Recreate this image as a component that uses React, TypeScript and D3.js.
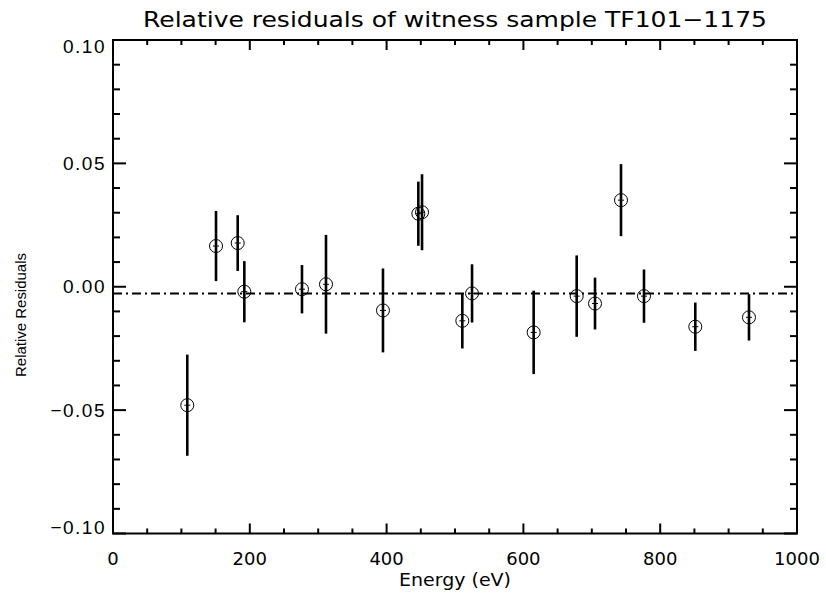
import React from "react";
import * as d3 from "d3";

const energy = [108.6, 150.6, 182.3, 192, 276.3, 311.4, 394.7, 446.4, 451.8, 510.7, 524.9, 615, 677.9, 704.7, 742.7, 776.3, 851.3, 929.8];
const residual = [-0.048, 0.0165, 0.0177, -0.002, -0.001, 0.001, -0.0096, 0.0296, 0.0302, -0.0138, -0.0027, -0.0185, -0.0038, -0.0068, 0.0351, -0.0038, -0.0162, -0.0124];
const errors = [0.0205, 0.0142, 0.0113, 0.0124, 0.0098, 0.02, 0.017, 0.013, 0.0154, 0.0112, 0.0118, 0.0169, 0.0165, 0.0105, 0.0146, 0.0108, 0.0098, 0.0094];
const refLevel = -0.0027;
const xMajorTicks = [0, 200, 400, 600, 800, 1000];
const yMajorTicks = [-0.1, -0.05, 0, 0.05, 0.1];
const yTickLabels = ["\u22120.10", "\u22120.05", "0.00", "0.05", "0.10"];
const title = "Relative residuals of witness sample TF101\u22121175";
const xLabel = "Energy (eV)";
const yLabel = "Relative Residuals";

const W = 826, H = 594;
const L = 113, R = 797, T = 40, B = 533.5;

export default function App() {
  const x = d3.scaleLinear().domain([0, 1000]).range([L, R]);
  const y = d3.scaleLinear().domain([-0.1, 0.1]).range([B, T]);
  const xMinor = d3.range(0, 1001, 50).filter((v) => v % 200 !== 0);
  const yMinor = d3.range(-10, 11, 1).filter((v) => v % 5 !== 0).map((v) => v / 100);
  const hershey = "'DejaVu Sans', sans-serif";
  const helv = "'Liberation Sans', Arial, sans-serif";
  return (
    <svg width={W} height={H} style={{ position: "absolute", left: 0, top: 0, background: "#fff" }}>
      <rect x={0} y={0} width={W} height={H} fill="#fff" />
      <text x={455} y={27} textAnchor="middle" fontFamily={hershey} fontSize={21} textLength={624} lengthAdjust="spacingAndGlyphs" fill="#000">{title}</text>
      <g stroke="#000" strokeWidth={2}>
        {xMajorTicks.map((v) => (
          <g key={"xM" + v}>
            <line x1={x(v)} x2={x(v)} y1={B} y2={B - 10} />
            <line x1={x(v)} x2={x(v)} y1={T} y2={T + 10} />
          </g>
        ))}
        {xMinor.map((v) => (
          <g key={"xm" + v}>
            <line x1={x(v)} x2={x(v)} y1={B} y2={B - 5} />
            <line x1={x(v)} x2={x(v)} y1={T} y2={T + 5} />
          </g>
        ))}
        {yMajorTicks.map((v) => (
          <g key={"yM" + v}>
            <line x1={L} x2={L + 13} y1={y(v)} y2={y(v)} />
            <line x1={R} x2={R - 13} y1={y(v)} y2={y(v)} />
          </g>
        ))}
        {yMinor.map((v) => (
          <g key={"ym" + v}>
            <line x1={L} x2={L + 7} y1={y(v)} y2={y(v)} />
            <line x1={R} x2={R - 7} y1={y(v)} y2={y(v)} />
          </g>
        ))}
      </g>
      <rect x={L} y={T} width={R - L} height={B - T} fill="none" stroke="#000" strokeWidth={2} />
      {yMajorTicks.map((v, i) => {
        let dy = 0;
        if (i === yMajorTicks.length - 1) dy = 6;
        if (i === 0) dy = -6;
        return (
          <text key={"yl" + v} x={106} y={y(v) + dy + 6.5} textAnchor="end" fontFamily={helv} fontSize={19} letterSpacing={1.5} fill="#000">{yTickLabels[i]}</text>
        );
      })}
      {xMajorTicks.map((v) => (
        <text key={"xl" + v} x={x(v)} y={565} textAnchor="middle" fontFamily={hershey} fontSize={18} fill="#000">{String(v)}</text>
      ))}
      <text x={455} y={586} textAnchor="middle" fontFamily={hershey} fontSize={17} textLength={112} lengthAdjust="spacingAndGlyphs" fill="#000">{xLabel}</text>
      <text transform={`translate(26,315) rotate(-90)`} textAnchor="middle" fontFamily={helv} fontSize={15.5} textLength={124} lengthAdjust="spacingAndGlyphs" fill="#000">{yLabel}</text>
      <line x1={x(0)} x2={x(1000)} y1={y(refLevel)} y2={y(refLevel)} stroke="#000" strokeWidth={2} strokeDasharray="9 4 2 4" />
      <g stroke="#000" strokeWidth={2.6}>
        {energy.map((e, i) => (
          <line key={"eb" + i} x1={x(e)} x2={x(e)} y1={y(residual[i] + errors[i])} y2={y(residual[i] - errors[i])} />
        ))}
      </g>
      <g stroke="#000" fill="none" strokeWidth={1}>
        {energy.map((e, i) => (
          <g key={"pt" + i}>
            <circle cx={x(e)} cy={y(residual[i])} r={6.5} fill="none" />
            <line x1={x(e) - 3} x2={x(e) + 3} y1={y(residual[i])} y2={y(residual[i])} />
          </g>
        ))}
      </g>
    </svg>
  );
}
